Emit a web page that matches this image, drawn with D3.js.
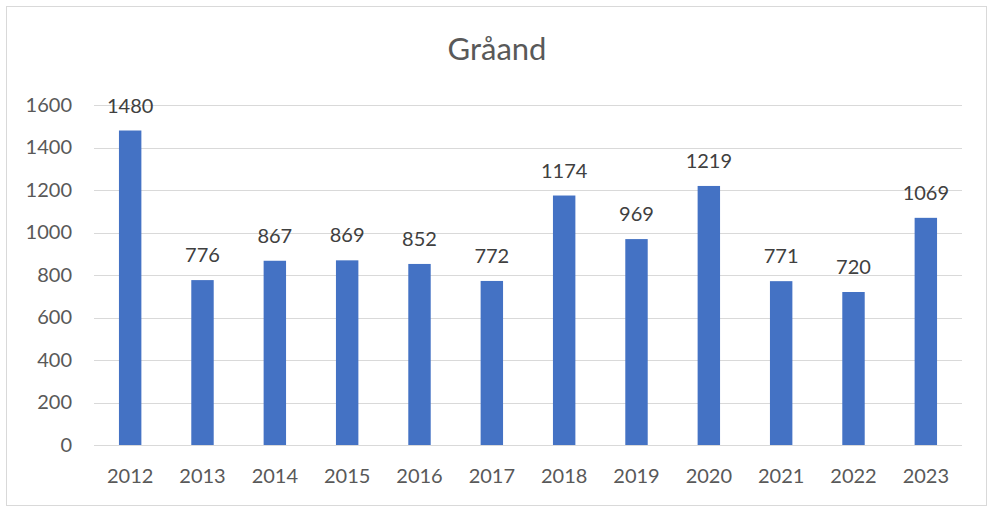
<!DOCTYPE html>
<html>
<head>
<meta charset="utf-8">
<script src="https://cdn.jsdelivr.net/npm/d3@7"></script>
<style>
  body { margin: 0; background: #fff; }
  text { font-family: Lato, "Open Sans", sans-serif; }
</style>
</head>
<body>
<div id="chart"></div>
<script>
// Chart data
//
var years  = ['2012','2013','2014','2015','2016','2017','2018','2019','2020','2021','2022','2023'];
var counts = [1480, 776, 867, 869, 852, 772, 1174, 969, 1219, 771, 720, 1069];
var yTicks = [0, 200, 400, 600, 800, 1000, 1200, 1400, 1600];
var title  = 'Gråand';

var svg_width  = 990;
var svg_height = 507;

var x_box_min = 94;
var x_box_max = 962;
var y_box_min = 105;
var y_box_max = 445;

var svg = d3.select('#chart').append('svg')
    .attr('width', svg_width)
    .attr('height', svg_height);

// Chart border
//
svg.append('rect')
    .attr('x', 6.5)
    .attr('y', 6.5)
    .attr('width', 980)
    .attr('height', 499)
    .attr('fill', 'white')
    .attr('stroke', '#d9d9d9')
    .attr('stroke-width', 1);

// Scales
//
var x = d3.scaleBand()
    .domain(years)
    .range([x_box_min, x_box_max])
    .paddingInner(0.69)
    .paddingOuter(0.345);

var y = d3.scaleLinear()
    .domain([0, 1600])
    .range([y_box_max, y_box_min]);

// Gridlines
//
svg.append('g')
    .selectAll('line')
    .data(yTicks)
    .join('line')
    .attr('x1', x_box_min)
    .attr('x2', x_box_max)
    .attr('y1', d => Math.round(y(d)) + 0.5)
    .attr('y2', d => Math.round(y(d)) + 0.5)
    .attr('stroke', '#d9d9d9')
    .attr('stroke-width', 1);

// Y axis labels
//
var yAxis = svg.append('g')
    .attr('transform', `translate(${x_box_min}, 0)`)
    .call(d3.axisLeft(y).tickValues(yTicks).tickFormat(d3.format('d')).tickSize(0).tickPadding(22));
yAxis.select('.domain').remove();
yAxis.selectAll('text')
    .attr('fill', '#595959')
    .style('font-size', '20px');

// Bars
//
svg.append('g')
    .selectAll('rect')
    .data(counts)
    .join('rect')
    .attr('x', (d, i) => x(years[i]))
    .attr('y', d => y(d))
    .attr('width', x.bandwidth())
    .attr('height', d => y_box_max - y(d))
    .attr('fill', '#4472c4');

// Data labels
//
svg.append('g')
    .selectAll('text')
    .data(counts)
    .join('text')
    .attr('x', (d, i) => x(years[i]) + x.bandwidth() / 2)
    .attr('y', d => y(d) - 18)
    .attr('text-anchor', 'middle')
    .attr('fill', '#404040')
    .style('font-size', '20px')
    .text(d => d);

// X axis labels
//
var xAxis = svg.append('g')
    .attr('transform', `translate(0, ${y_box_max})`)
    .call(d3.axisBottom(x).tickSize(0).tickPadding(24));
xAxis.select('.domain').remove();
xAxis.selectAll('text')
    .attr('fill', '#595959')
    .style('font-size', '20px');

// Title
//
svg.append('text')
    .attr('x', 497)
    .attr('y', 60)
    .attr('text-anchor', 'middle')
    .attr('fill', '#595959')
    .style('font-size', '31px')
    .text(title);
</script>
</body>
</html>
